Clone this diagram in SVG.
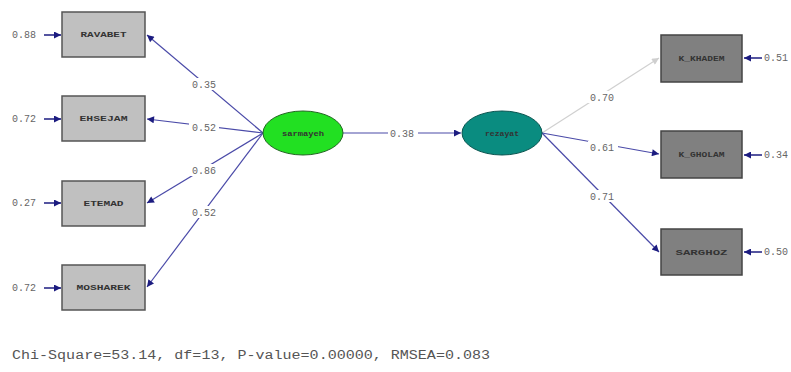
<svg xmlns="http://www.w3.org/2000/svg" width="791" height="372" viewBox="0 0 791 372">
<defs>
<marker id="ah" viewBox="0 0 10 10" refX="10" refY="5" markerWidth="9" markerHeight="7" markerUnits="userSpaceOnUse" orient="auto"><path d="M0,0 L10,5 L0,10 z" fill="#1c1c80"/></marker>
<marker id="ahg" viewBox="0 0 10 10" refX="10" refY="5" markerWidth="9" markerHeight="7" markerUnits="userSpaceOnUse" orient="auto"><path d="M0,0 L10,5 L0,10 z" fill="#cfcfcf"/></marker>
<style>
.obsL{fill:#c0c0c0;stroke:#555;stroke-width:1.5}
.obsR{fill:#808080;stroke:#444;stroke-width:1.5}
.nl{font-family:"Liberation Mono",monospace;font-size:8px;font-weight:bold;fill:#333;text-anchor:middle}
.val{font-family:"Liberation Mono",monospace;font-size:10px;fill:#666}
.ln{stroke:#4a4aa8;stroke-width:1.2;fill:none;marker-end:url(#ah)}
.lng{stroke:#d0d0d0;stroke-width:1.2;fill:none;marker-end:url(#ahg)}
.er{stroke:#1c1c80;stroke-width:1.5;fill:none;marker-end:url(#ah)}
</style>
</defs>
<rect width="791" height="372" fill="#fff"/>
<g id="connectors">
<line class="ln" x1="263" y1="133" x2="147" y2="35"/>
<line class="ln" x1="263" y1="133" x2="147" y2="119"/>
<line class="ln" x1="263" y1="133" x2="147" y2="203"/>
<line class="ln" x1="263" y1="133" x2="147" y2="287"/>
<line class="ln" x1="343" y1="133" x2="461" y2="133"/>
<line class="lng" x1="542" y1="133" x2="659" y2="58"/>
<line class="ln" x1="542" y1="133" x2="659" y2="154"/>
<line class="ln" x1="542" y1="133" x2="659" y2="252"/>
<line class="er" x1="44" y1="35" x2="61" y2="35"/>
<line class="er" x1="44" y1="119" x2="61" y2="119"/>
<line class="er" x1="44" y1="203" x2="61" y2="203"/>
<line class="er" x1="44" y1="288" x2="61" y2="288"/>
<line class="er" x1="762" y1="58" x2="744" y2="58"/>
<line class="er" x1="762" y1="155" x2="744" y2="155"/>
<line class="er" x1="762" y1="252" x2="744" y2="252"/>
<g class="val">
<rect x="189" y="78" width="30" height="12" fill="#fff"/><text x="192" y="88">0.35</text>
<rect x="189" y="121" width="30" height="12" fill="#fff"/><text x="192" y="131">0.52</text>
<rect x="189" y="164" width="30" height="12" fill="#fff"/><text x="192" y="174">0.86</text>
<rect x="189" y="206" width="30" height="12" fill="#fff"/><text x="192" y="216">0.52</text>
<rect x="388" y="128" width="30" height="12" fill="#fff"/><text x="390" y="137">0.38</text>
<rect x="588" y="91" width="30" height="12" fill="#fff"/><text x="590" y="101">0.70</text>
<rect x="588" y="141" width="30" height="12" fill="#fff"/><text x="590" y="151">0.61</text>
<rect x="588" y="190" width="30" height="12" fill="#fff"/><text x="590" y="200">0.71</text>
<text x="12" y="38">0.88</text>
<text x="12" y="122">0.72</text>
<text x="12" y="206">0.27</text>
<text x="12" y="291">0.72</text>
<text x="764" y="61">0.51</text>
<text x="764" y="158">0.34</text>
<text x="764" y="255">0.50</text>
</g>
</g>
<g id="RAVABET"><rect class="obsL" x="62" y="12" width="83" height="45"/><text class="nl" x="103.5" y="37" textLength="46" lengthAdjust="spacingAndGlyphs">RAVABET</text></g>
<g id="EHSEJAM"><rect class="obsL" x="62" y="96" width="83" height="45"/><text class="nl" x="103.5" y="121" textLength="48" lengthAdjust="spacingAndGlyphs">EHSEJAM</text></g>
<g id="ETEMAD"><rect class="obsL" x="62" y="181" width="83" height="45"/><text class="nl" x="103.5" y="206" textLength="40" lengthAdjust="spacingAndGlyphs">ETEMAD</text></g>
<g id="MOSHAREK"><rect class="obsL" x="62" y="265" width="83" height="45"/><text class="nl" x="103.5" y="290" textLength="54" lengthAdjust="spacingAndGlyphs">MOSHAREK</text></g>
<g id="sarmayeh"><ellipse cx="303" cy="133" rx="40" ry="22" fill="#22e022" stroke="#226622" stroke-width="1"/><text class="nl" x="303" y="136" font-weight="normal" fill="#103010" textLength="42" lengthAdjust="spacingAndGlyphs">sarmayeh</text></g>
<g id="rezayat"><ellipse cx="502" cy="133" rx="40" ry="22" fill="#0a8c80" stroke="#0a5550" stroke-width="1"/><text class="nl" x="502" y="136" fill="#10302e" textLength="34" lengthAdjust="spacingAndGlyphs">rezayat</text></g>
<g id="K_KHADEM"><rect class="obsR" x="661" y="35" width="81" height="47"/><text class="nl" x="701.5" y="61" fill="#222" textLength="46" lengthAdjust="spacingAndGlyphs">K_KHADEM</text></g>
<g id="K_GHOLAM"><rect class="obsR" x="661" y="131" width="81" height="47"/><text class="nl" x="701.5" y="157" fill="#222" textLength="46" lengthAdjust="spacingAndGlyphs">K_GHOLAM</text></g>
<g id="SARGHOZ"><rect class="obsR" x="661" y="229" width="81" height="46"/><text class="nl" x="701.5" y="255" fill="#222" textLength="52" lengthAdjust="spacingAndGlyphs">SARGHOZ</text></g>
<text x="12" y="359" font-family="Liberation Mono, monospace" font-size="12" fill="#555" textLength="478" lengthAdjust="spacingAndGlyphs">Chi-Square=53.14, df=13, P-value=0.00000, RMSEA=0.083</text>
</svg>
